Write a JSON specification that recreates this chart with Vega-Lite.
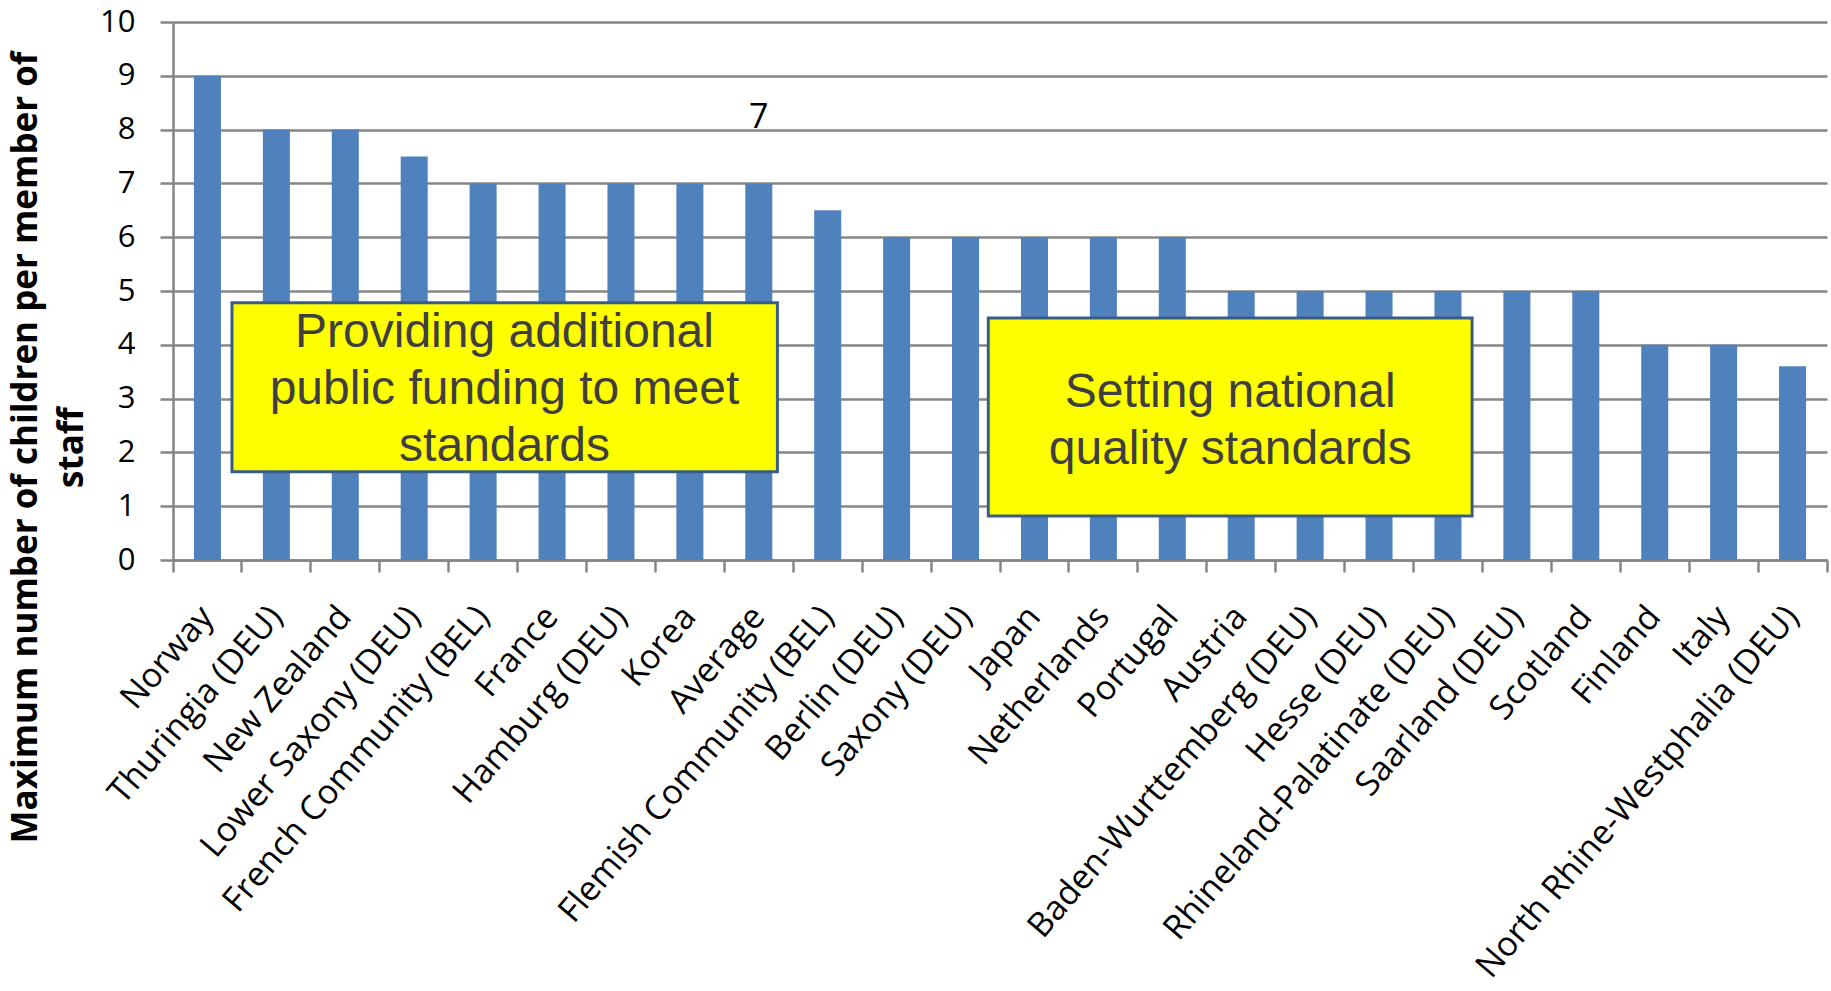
{
  "$schema": "https://vega.github.io/schema/vega-lite/v6.json",
  "width": 1654,
  "height": 538,
  "autosize": {"type": "none"},
  "padding": {"left": 173, "top": 22, "right": 4, "bottom": 431},
  "background": "white",
  "config": {"view": {"stroke": null}},
  "datasets": {
    "ratios": [
      {"country": "Norway", "value": 9},
      {"country": "Thuringia (DEU)", "value": 8},
      {"country": "New Zealand", "value": 8},
      {"country": "Lower Saxony (DEU)", "value": 7.5},
      {"country": "French Community (BEL)", "value": 7},
      {"country": "France", "value": 7},
      {"country": "Hamburg (DEU)", "value": 7},
      {"country": "Korea", "value": 7},
      {"country": "Average", "value": 7},
      {"country": "Flemish Community (BEL)", "value": 6.5},
      {"country": "Berlin (DEU)", "value": 6},
      {"country": "Saxony (DEU)", "value": 6},
      {"country": "Japan", "value": 6},
      {"country": "Netherlands", "value": 6},
      {"country": "Portugal", "value": 6},
      {"country": "Austria", "value": 5},
      {"country": "Baden-Wurttemberg (DEU)", "value": 5},
      {"country": "Hesse (DEU)", "value": 5},
      {"country": "Rhineland-Palatinate (DEU)", "value": 5},
      {"country": "Saarland (DEU)", "value": 5},
      {"country": "Scotland", "value": 5},
      {"country": "Finland", "value": 4},
      {"country": "Italy", "value": 4},
      {"country": "North Rhine-Westphalia (DEU)", "value": 3.6}
    ],
    "notes": [
      {"note": "Providing additional\npublic funding to meet\nstandards", "x0": 0.856, "x1": 8.77, "y0": 1.64, "y1": 4.78, "cx": 4.81, "cy": 3.96},
      {"note": "Setting national\nquality standards", "x0": 11.83, "x1": 18.85, "y0": 0.82, "y1": 4.5, "cx": 15.34, "cy": 2.84}
    ]
  },
  "layer": [
    {
      "data": {"name": "ratios"},
      "layer": [
        {
          "mark": {"type": "bar", "color": "#4F81BD", "width": {"band": 0.392}},
          "encoding": {
            "x": {
              "field": "country",
              "type": "nominal",
              "sort": null,
              "scale": {"paddingInner": 0, "paddingOuter": 0},
              "axis": {
                "orient": "bottom",
                "title": null,
                "domain": false,
                "ticks": false,
                "labelAngle": -49.5,
                "labelAlign": "right",
                "labelBaseline": "middle",
                "labelPadding": 51,
                "labelFont": "Open Sans",
                "labelFontSize": 34,
                "labelColor": "#000000",
                "labelLimit": 1000,
                "labelOverlap": false
              }
            },
            "y": {
              "field": "value",
              "type": "quantitative",
              "scale": {"domain": [0, 10], "nice": false},
              "axis": {
                "values": [0, 1, 2, 3, 4, 5, 6, 7, 8, 9, 10],
                "title": ["Maximum number of children per member of", "staff"],
                "titleFont": "Open Sans",
                "titleFontWeight": "bold",
                "titleFontSize": 35,
                "titleColor": "#000000",
                "titleLineHeight": 46,
                "titleBaseline": "alphabetic",
                "titleX": -137,
                "titleY": 425,
                "grid": true,
                "gridColor": "#868686",
                "gridWidth": 2.5,
                "domainColor": "#868686",
                "domainWidth": 2.5,
                "tickColor": "#868686",
                "tickWidth": 2.5,
                "tickSize": 13,
                "labelPadding": 25,
                "labelFont": "Open Sans",
                "labelFontSize": 31,
                "labelColor": "#000000"
              }
            }
          }
        },
        {
          "mark": {"type": "bar", "opacity": 0, "width": {"band": 0.392}},
          "encoding": {
            "x": {
              "field": "country",
              "type": "nominal",
              "sort": null,
              "axis": {
                "orient": "bottom",
                "title": null,
                "labels": false,
                "bandPosition": 0,
                "domain": true,
                "domainColor": "#868686",
                "domainWidth": 2.5,
                "ticks": true,
                "tickColor": "#868686",
                "tickWidth": 2.5,
                "tickSize": 12,
                "grid": false
              }
            },
            "y": {"field": "value", "type": "quantitative"}
          }
        },
        {
          "mark": {"type": "bar", "opacity": 0, "width": {"band": 0.392}},
          "encoding": {
            "x": {
              "field": "country",
              "type": "nominal",
              "sort": null,
              "axis": {
                "orient": "bottom",
                "title": null,
                "labels": false,
                "values": ["North Rhine-Westphalia (DEU)"],
                "bandPosition": 1,
                "domain": false,
                "ticks": true,
                "tickColor": "#868686",
                "tickWidth": 2.5,
                "tickSize": 12,
                "grid": false
              }
            },
            "y": {"field": "value", "type": "quantitative"}
          }
        },
        {
          "transform": [{"filter": "datum.country === 'Average'"}],
          "mark": {"type": "text", "font": "Open Sans", "fontSize": 34, "color": "#000000", "baseline": "alphabetic", "dy": -55},
          "encoding": {
            "x": {"field": "country", "type": "nominal", "sort": null, "axis": null},
            "y": {"field": "value", "type": "quantitative"},
            "text": {"field": "value", "type": "quantitative"}
          }
        }
      ],
      "resolve": {"axis": {"x": "independent"}}
    },
    {
      "data": {"name": "notes"},
      "layer": [
        {
          "mark": {"type": "rect", "fill": "#FFFF00", "stroke": "#385D8A", "strokeWidth": 3},
          "encoding": {
            "x": {"field": "x0", "type": "quantitative", "scale": {"domain": [0, 24], "nice": false, "zero": false}, "axis": null},
            "x2": {"field": "x1"},
            "y": {"field": "y0", "type": "quantitative"},
            "y2": {"field": "y1"}
          }
        },
        {
          "mark": {"type": "text", "font": "Liberation Sans", "fontSize": 48, "lineHeight": 57, "color": "#3F3F3F", "align": "center", "baseline": "alphabetic", "lineBreak": "\n"},
          "encoding": {
            "x": {"field": "cx", "type": "quantitative", "axis": null},
            "y": {"field": "cy", "type": "quantitative"},
            "text": {"field": "note", "type": "nominal"}
          }
        }
      ]
    }
  ],
  "resolve": {"scale": {"x": "independent"}}
}
